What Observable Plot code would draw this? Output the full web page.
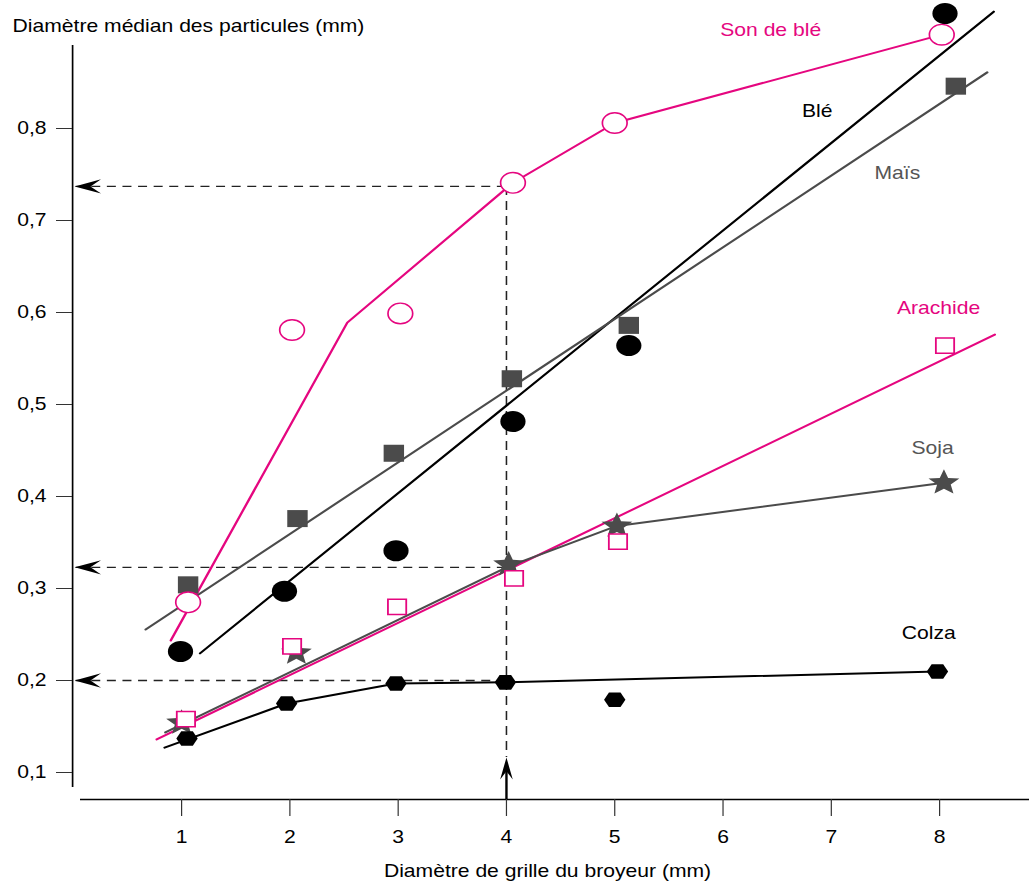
<!DOCTYPE html>
<html><head><meta charset="utf-8">
<script src="https://cdn.jsdelivr.net/npm/d3@7"></script>
<script src="https://cdn.jsdelivr.net/npm/@observablehq/plot@0.6"></script>
<style>
body{margin:0;background:#fff;}
#chart svg{transform:scaleX(1.2);transform-origin:0 0;display:block;}
</style>
</head><body><div id="chart"></div>
<script>
// ---------- data ----------
const xTicks = [1, 2, 3, 4, 5, 6, 7, 8];
const yTicks = [0.1, 0.2, 0.3, 0.4, 0.5, 0.6, 0.7, 0.8];
const yTickLabels = ["0,1", "0,2", "0,3", "0,4", "0,5", "0,6", "0,7", "0,8"];
const xTitle = "Diamètre de grille du broyeur (mm)";
const yTitle = "Diamètre médian des particules (mm)";

// Son de blé (open circles + broken line)
const sonX = [1.06, 2.02, 3.02, 4.06, 5.0, 8.02];
const sonY = [0.285, 0.581, 0.599, 0.741, 0.806, 0.902];
const sonLineX = [0.9, 2.53, 4.06, 5.0, 8.02];
const sonLineY = [0.2435, 0.589, 0.741, 0.806, 0.902];
// Blé (filled circles + straight line)
const bleX = [0.99, 1.95, 2.98, 4.06, 5.13, 8.05];
const bleY = [0.2315, 0.297, 0.341, 0.4815, 0.564, 0.925];
const bleLineX = [1.17, 8.5];
const bleLineY = [0.2295, 0.927];
// Maïs (squares + straight line)
const maisX = [1.06, 2.07, 2.96, 4.05, 5.13, 8.15];
const maisY = [0.304, 0.376, 0.447, 0.528, 0.586, 0.846];
const maisLineX = [0.668, 8.44];
const maisLineY = [0.2554, 0.861];
// Arachide (open squares + straight line)
const araX = [1.04, 2.02, 2.99, 4.07, 5.03, 8.05];
const araY = [0.158, 0.237, 0.280, 0.311, 0.351, 0.564];
const araLineX = [0.77, 8.51];
const araLineY = [0.1359, 0.576];
// Soja (stars + broken line)
const sojaX = [1.0, 2.06, 4.02, 5.02, 8.04];
const sojaY = [0.154, 0.230, 0.326, 0.368, 0.415];
const sojaLineX = [0.85, 4.02, 5.02, 8.04];
const sojaLineY = [0.1435, 0.324, 0.368, 0.415];
// Colza (hexagons + broken line)
const colzaX = [1.05, 1.97, 2.98, 3.99, 5.0, 7.98];
const colzaY = [0.137, 0.175, 0.1967, 0.198, 0.179, 0.2098];
const colzaLineX = [0.843, 1.97, 2.98, 3.99, 7.98];
const colzaLineY = [0.127, 0.175, 0.1967, 0.198, 0.2098];

// reading guides
const refX = 4;
const refLevels = [0.737, 0.323, 0.2];

// series labels
const labelNames = ["Son de blé", "Blé", "Maïs", "Arachide", "Soja", "Colza"];
const labelX = [6.44, 6.87, 7.61, 7.99, 7.935, 7.90];
const labelY = [0.9065, 0.8185, 0.751, 0.604, 0.452, 0.251];

// ---------- styling / layout ----------
const S = 1.2;               // horizontal stretch of the whole drawing
const W = 1029 / S, H = 885;
const mL = 72 / S, mT = 45, mB = 86, mR = 0;
const PINK = "#e5067f", GRAY = "#4b4b4b";
const FONT = "'Liberation Sans', Arial, Helvetica, sans-serif";

const xOpt = {type: "linear", domain: [1, 8], range: [181 / S, 939 / S]};
const yOpt = {type: "linear", domain: [0.1, 0.8], range: [772, 128]};
const xs = Plot.scale({x: xOpt});
const ys = Plot.scale({y: yOpt});

const xAxisAt = ys.invert(H - mB);          // y value of the x-axis line
const yAxisAt = xs.invert(mL);              // x value of the y-axis line
const arrowTipX = xs.invert(mL + 2 / S);
const upTipY = ys.invert(757);

const pts = (X, Y) => X.map((x, i) => ({x, y: Y[i]}));

// custom symbols
const hexSym = {draw(ctx, size) {
  const r = Math.sqrt(size / Math.PI);
  const w = r * 1.22, f = r * 0.66;
  ctx.moveTo(-w, 0); ctx.lineTo(-f, -r); ctx.lineTo(f, -r);
  ctx.lineTo(w, 0); ctx.lineTo(f, r); ctx.lineTo(-f, r); ctx.closePath();
}};
const starSym = {draw(ctx, size) {
  const R = Math.sqrt(size / Math.PI), ri = R * 0.44;
  for (let k = 0; k < 10; k++) {
    const a = -Math.PI / 2 + k * Math.PI / 5, rr = k % 2 ? ri : R;
    const px = Math.cos(a) * rr, py = Math.sin(a) * rr;
    k ? ctx.lineTo(px, py) : ctx.moveTo(px, py);
  }
  ctx.closePath();
}};
const leftArrow = {draw(ctx, size) {
  const r = Math.sqrt(size / Math.PI), L = r * 2.1, w = r * 0.68;
  ctx.moveTo(0, 0); ctx.lineTo(L, -w); ctx.lineTo(L * 0.6, 0); ctx.lineTo(L, w); ctx.closePath();
}};
const upArrow = {draw(ctx, size) {
  const r = Math.sqrt(size / Math.PI), L = r * 2.1, w = r * 0.5;
  ctx.moveTo(0, 0); ctx.lineTo(w, L); ctx.lineTo(0, L * 0.62); ctx.lineTo(-w, L); ctx.closePath();
}};

const lineOf = (X, Y, stroke) => Plot.line(pts(X, Y), {x: "x", y: "y", stroke, strokeWidth: 2});

const chart = Plot.plot({
  width: W, height: H,
  marginLeft: mL, marginRight: mR, marginTop: mT, marginBottom: mB,
  x: xOpt, y: yOpt,
  style: {fontFamily: FONT, fontSize: "17.6px", background: "#fff", overflow: "visible", color: "#000"},
  marks: [
    // reading guides
    Plot.ruleY(refLevels, {y: d => d, x1: refX, x2: arrowTipX, stroke: "#222", strokeWidth: 1.3, strokeDasharray: "7.5,5.5"}),
    Plot.ruleX([refX], {x: d => d, y1: refLevels[0], y2: upTipY, stroke: "#222", strokeWidth: 1.3, strokeDasharray: "9,6"}),
    Plot.ruleX([refX], {x: d => d, y1: xAxisAt, y2: ys.invert(770), stroke: "#000", strokeWidth: 2}),
    // axis lines
    Plot.ruleX([yAxisAt], {x: d => d, y1: ys.invert(mT), y2: ys.invert(787), stroke: "#000", strokeWidth: 1.4}),
    Plot.ruleY([xAxisAt], {y: d => d, x1: xs.invert(80 / S), x2: xs.invert(W), stroke: "#000", strokeWidth: 1.5}),
    // axes
    Plot.axisY(yTicks, {anchor: "left", tickSize: 16 / S, tickPadding: 10 / S, label: null,
      tickFormat: d => yTickLabels[yTicks.indexOf(d)], stroke: "#333", fill: "#000"}),
    Plot.axisX(xTicks, {anchor: "bottom", tickSize: 17, tickPadding: 14, label: null, stroke: "#333", fill: "#000"}),
    // titles
    Plot.text([yTitle], {frameAnchor: "top-left", textAnchor: "start", dx: (12 - 72) / S, dy: -26, fill: "#000"}),
    Plot.text([xTitle], {frameAnchor: "bottom", dx: -3, dy: 77, fill: "#000"}),
    // lines
    lineOf(sonLineX, sonLineY, PINK),
    lineOf(bleLineX, bleLineY, "#000"),
    lineOf(maisLineX, maisLineY, GRAY),
    lineOf(araLineX, araLineY, PINK),
    lineOf(sojaLineX, sojaLineY, GRAY),
    lineOf(colzaLineX, colzaLineY, "#000"),
    // markers
    Plot.dot(pts(maisX, maisY), {x: "x", y: "y", symbol: "square", r: 9.6, fill: GRAY, stroke: "none"}),
    Plot.dot(pts(bleX, bleY), {x: "x", y: "y", symbol: "circle", r: 10.5, fill: "#000", stroke: "none"}),
    Plot.dot(pts(sonX, sonY), {x: "x", y: "y", symbol: "circle", r: 10.3, fill: "#fff", stroke: PINK, strokeWidth: 1.4}),
    Plot.dot(pts(sojaX, sojaY), {x: "x", y: "y", symbol: starSym, r: 13.5, fill: GRAY, stroke: "none"}),
    Plot.dot(pts(araX, araY), {x: "x", y: "y", symbol: "square", r: 8.6, fill: "#fff", stroke: PINK, strokeWidth: 1.5}),
    Plot.dot(pts(colzaX, colzaY), {x: "x", y: "y", symbol: hexSym, r: 7.3, fill: "#000", stroke: "none"}),
    // arrowheads
    Plot.dot(refLevels, {x: arrowTipX, y: d => d, symbol: leftArrow, r: 10.5, fill: "#000", stroke: "none"}),
    Plot.dot([refX], {x: d => d, y: upTipY, symbol: upArrow, r: 10.5, fill: "#000", stroke: "none"}),
    // series labels
    Plot.text(labelNames, {x: (d, i) => labelX[i], y: (d, i) => labelY[i], text: d => d,
      fill: d => (d === "Son de blé" || d === "Arachide") ? PINK : (d === "Maïs" || d === "Soja") ? "#555" : "#000"})
  ]
});
document.getElementById("chart").appendChild(chart);
</script>
</body></html>
